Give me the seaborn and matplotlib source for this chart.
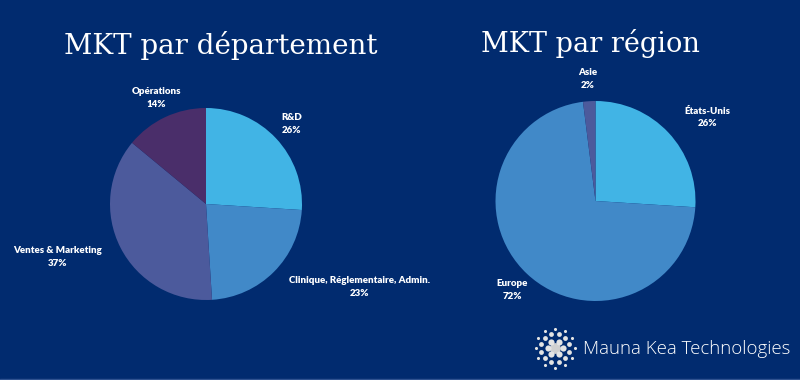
import numpy as np
import pandas as pd
import seaborn as sns
from matplotlib import pyplot as plt

# data
dept_labels = ["R&D", "Clinique, Réglementaire, Admin.", "Ventes & Marketing", "Opérations"]
dept_values = [26, 23, 37, 14]
region_labels = ["États-Unis", "Europe", "Asie"]
region_values = [26, 72, 2]

dept = pd.DataFrame({"label": dept_labels, "value": dept_values})
region = pd.DataFrame({"label": region_labels, "value": region_values})

bg = "#012b6f"
dept_colors = sns.color_palette(["#41b4e5", "#4189c8", "#4c5a9c", "#4a2e6a"])
region_colors = sns.color_palette(["#41b4e5", "#4189c8", "#4c5a9c"])

sns.set_theme(style="white")
plt.rcParams["font.family"] = ["Lato", "DejaVu Sans"]

fig = plt.figure(figsize=(8, 3.8), dpi=100, facecolor=bg)

# pixel-space overlay for titles and logo
ov = fig.add_axes([0, 0, 1, 1])
ov.set_xlim(0, 800)
ov.set_ylim(380, 0)
ov.set_axis_off()
ov.patch.set_visible(False)


def draw_pie(df, colors, radius, cx, cy, aligns):
    ax = fig.add_axes([(cx - 200) / 800, (380 - cy - 200) / 380, 400 / 800, 400 / 380])
    wedges, _ = ax.pie(df["value"], colors=colors, startangle=90, counterclock=False,
                       radius=radius, wedgeprops=dict(linewidth=0))
    ax.set_xlim(-2, 2)
    ax.set_ylim(-2, 2)
    ax.set_aspect("equal")
    ax.set_axis_off()
    ax.patch.set_visible(False)
    total = df["value"].sum()
    for w, (lab, v), ha in zip(wedges, df[["label", "value"]].values, aligns):
        ang = np.deg2rad((w.theta1 + w.theta2) / 2)
        x = 1.22 * radius * np.cos(ang)
        y = 1.22 * radius * np.sin(ang)
        ax.text(x, y, f"{lab}\n{v / total * 100:.0f}%", ha=ha, va="center", ma="center",
                color="white", fontsize=7, fontweight="heavy", linespacing=1.55)
    return ax


draw_pie(dept, dept_colors, 0.96, 206, 204, ["center", "left", "right", "center"])
draw_pie(region, region_colors, 1.0, 595.5, 201, ["left", "center", "center"])

ov.text(221, 45, "MKT par département", ha="center", va="center", color="white",
        fontsize=20, family="DejaVu Serif")
ov.text(590, 43, "MKT par région", ha="center", va="center", color="white",
        fontsize=19.5, family="DejaVu Serif")

# logo
cx, cy = 555, 348
ov.scatter([cx], [cy], s=45, color="#d0d0d0", zorder=3)
for ring, n, s, off in [(7.5, 6, 20, 0), (14, 12, 12, 15), (19.5, 12, 5, 0)]:
    a = np.deg2rad(np.arange(n) * 360 / n + off)
    ov.scatter(cx + ring * np.cos(a), cy + ring * np.sin(a), s=s, color="#e4e4e4",
               linewidths=0, zorder=3)
ov.text(583, 349, "Mauna Kea Technologies", ha="left", va="center", color="white",
        fontsize=13.4, family="Open Sans", fontweight="light")
ov.plot([0, 800], [378.5, 378.5], color="#2f5290", lw=1)

fig.savefig("out.png", dpi=100, facecolor=bg)
